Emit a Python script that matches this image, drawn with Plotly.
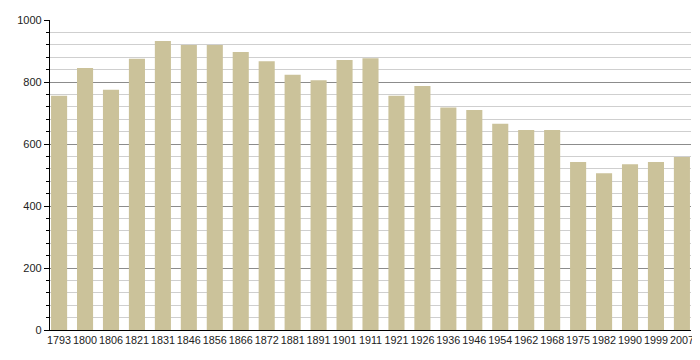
import plotly.graph_objects as go

years = ["1793", "1800", "1806", "1821", "1831", "1846", "1856", "1866", "1872", "1881",
         "1891", "1901", "1911", "1921", "1926", "1936", "1946", "1954", "1962", "1968",
         "1975", "1982", "1990", "1999", "2007"]
population = [756, 845, 775, 875, 932, 919, 919, 897, 867, 823,
              806, 871, 877, 756, 787, 718, 710, 665, 645, 645,
              542, 506, 535, 542, 558]

bar_color = "#cbc29a"
font_family = "Liberation Sans, Arial, sans-serif"

fig = go.Figure()
fig.add_trace(go.Bar(
    x=years, y=population,
    marker=dict(color=bar_color, line=dict(width=0)),
    width=0.62,
    hoverinfo="x+y",
))

fig.update_layout(
    width=700, height=360,
    margin=dict(l=42, r=17, t=12, b=38, autoexpand=False),
    plot_bgcolor="white", paper_bgcolor="white",
    showlegend=False,
    font=dict(family=font_family, size=11, color="#222"),
    xaxis=dict(
        type="category",
        range=[-0.35, 24.35],
        showgrid=False,
        showline=True, linecolor="black", linewidth=1.2,
        ticks="", tickangle=0, automargin=False,
        tickfont=dict(size=10.8, color="#222"),
        fixedrange=True,
    ),
    yaxis=dict(
        range=[0, 1000],
        tickvals=[0, 200, 400, 600, 800, 1000],
        showgrid=True, gridcolor="#8c8c8c", gridwidth=1,
        showline=True, linecolor="black", linewidth=1.2,
        ticks="outside", ticklen=5, tickcolor="black", tickwidth=1,
        tickfont=dict(size=11, color="#222"),
        zeroline=False, automargin=False,
        minor=dict(tickvals=[v for v in range(40, 1000, 40) if v % 200 != 0],
                   ticks="outside", ticklen=3, tickcolor="black",
                   showgrid=True, gridcolor="#cfcfcf", gridwidth=1),
        fixedrange=True,
    ),
)

fig.write_html("out.html")
